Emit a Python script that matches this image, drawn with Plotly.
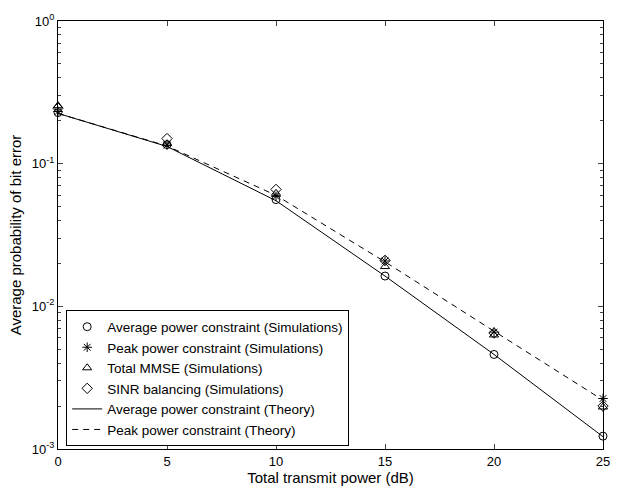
import plotly.graph_objects as go

x = [0, 5, 10, 15, 20, 25]
avg_sim = [0.228, 0.136, 0.056, 0.0163, 0.0046, 0.00123]
peak_sim = [0.232, 0.135, 0.059, 0.0208, 0.0066, 0.00226]
mmse_sim = [0.255, 0.138, 0.062, 0.0190, 0.0063, 0.00197]
sinr_sim = [0.245, 0.150, 0.066, 0.0210, 0.0065, 0.00200]
avg_theory = [0.225, 0.132, 0.055, 0.0163, 0.0046, 0.00122]
peak_theory = [0.225, 0.133, 0.060, 0.0205, 0.0067, 0.00220]
minor_y = [m * 10 ** e for e in (-3, -2, -1) for m in range(2, 10)]

font = "Liberation Sans, Arial, sans-serif"
fig = go.Figure()
mk = dict(color="black", size=8, line=dict(color="black", width=1))
fig.add_trace(go.Scatter(x=x, y=avg_sim, mode="markers", name="Average power constraint (Simulations)",
                         marker=dict(symbol="circle-open", **mk), cliponaxis=False))
fig.add_trace(go.Scatter(x=x, y=peak_sim, mode="markers", name="Peak power constraint (Simulations)",
                         marker=dict(symbol="asterisk-open", **mk), cliponaxis=False))
fig.add_trace(go.Scatter(x=x, y=mmse_sim, mode="markers", name="Total MMSE (Simulations)",
                         marker=dict(symbol="triangle-up-open", **mk), cliponaxis=False))
fig.add_trace(go.Scatter(x=x, y=sinr_sim, mode="markers", name="SINR balancing (Simulations)",
                         marker=dict(symbol="diamond-open", **mk), cliponaxis=False))
fig.add_trace(go.Scatter(x=x, y=avg_theory, mode="lines", name="Average power constraint (Theory)",
                         line=dict(color="black", width=1)))
fig.add_trace(go.Scatter(x=x, y=peak_theory, mode="lines", name="Peak power constraint (Theory)",
                         line=dict(color="black", width=1, dash="6px,5px")))

fig.update_layout(
    width=625, height=495,
    margin=dict(l=58, r=22, t=15, b=40),
    plot_bgcolor="white", paper_bgcolor="white",
    font=dict(family=font, size=13, color="black"),
    showlegend=True,
    legend=dict(x=0.015, y=0.006, xanchor="left", yanchor="bottom",
                bgcolor="white", bordercolor="black", borderwidth=1,
                font=dict(size=13.5, family=font), tracegroupgap=0, itemwidth=30),
)
fig.update_xaxes(range=[0, 25], tickvals=[0, 5, 10, 15, 20, 25], ticks="inside", ticklen=5,
                 showline=True, linecolor="black", linewidth=1, mirror="ticks", showgrid=False,
                 zeroline=False, tickfont=dict(size=13),
                 title=dict(text="Total transmit power (dB)", font=dict(size=15), standoff=4))
fig.update_yaxes(type="log", range=[-3, 0], tickvals=[1, 0.1, 0.01, 0.001],
                 ticktext=["10<sup>0</sup>", "10<sup>-1</sup>", "10<sup>-2</sup>", "10<sup>-3</sup>"],
                 ticks="inside", ticklen=5, showline=True, linecolor="black", linewidth=1,
                 mirror="ticks", showgrid=False, zeroline=False, tickfont=dict(size=13),
                 minor=dict(ticks="inside", ticklen=3, showgrid=False, tickvals=minor_y),
                 title=dict(text="Average probability of bit error", font=dict(size=15), standoff=6))

fig.write_html("out.html")
